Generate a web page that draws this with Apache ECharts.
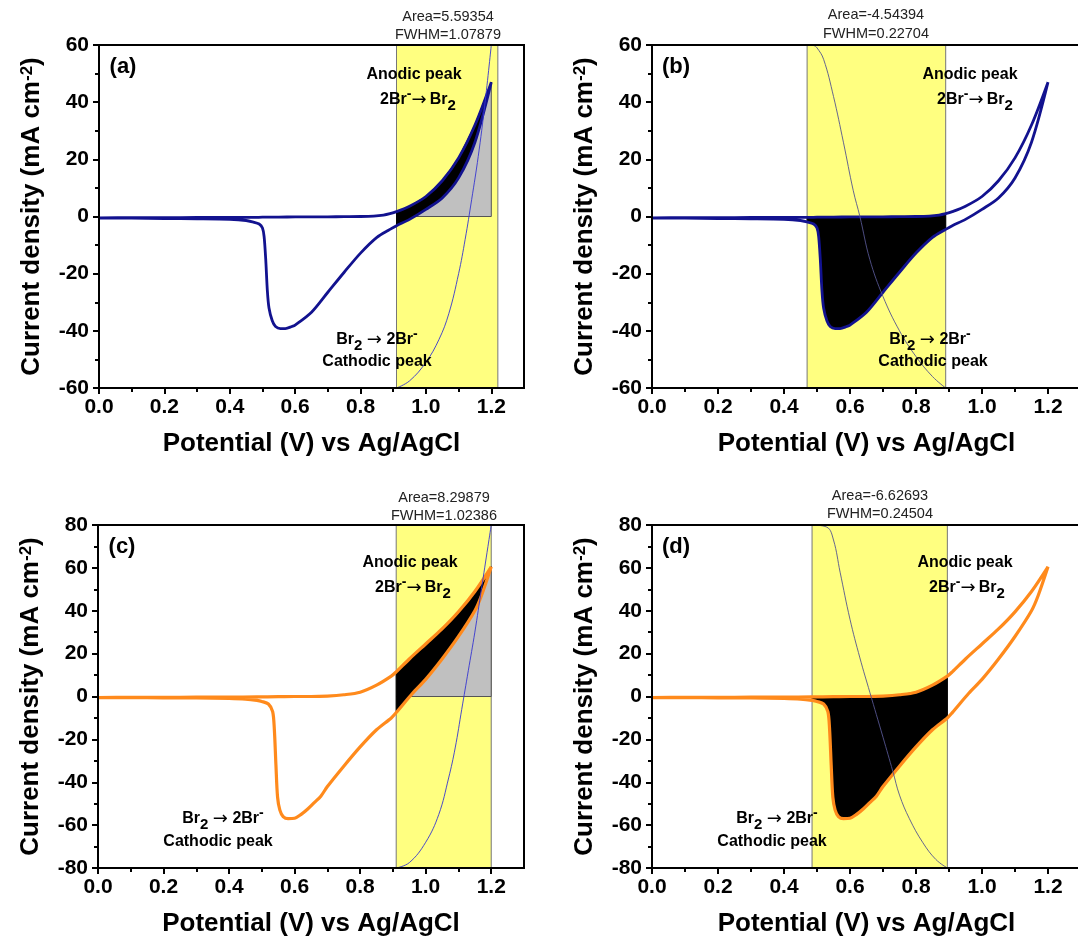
<!DOCTYPE html>
<html>
<head>
<meta charset="utf-8">
<title>CV integration</title>
<script src="https://cdn.jsdelivr.net/npm/echarts@6/dist/echarts.min.js"></script>
<style>
  html, body { margin: 0; padding: 0; background: #fff; }
  #chart { width: 1078px; height: 939px; }
</style>
</head>
<body>
<div id="chart"></div>
<script>
// tick values
const xTicks = [0, 0.2, 0.4, 0.6, 0.8, 1.0, 1.2]
const xMinorTicks = [0.1, 0.3, 0.5, 0.7, 0.9, 1.1]

// CV 1 (panels a, b): forward and reverse sweep, potential (V) / current density (mA cm-2)
const cv1FwdE = [0, 0.1, 0.2, 0.3, 0.4, 0.45, 0.47, 0.5, 0.55, 0.6, 0.65, 0.7, 0.75, 0.8, 0.84, 0.87, 0.89, 0.91, 0.95, 1.0, 1.05, 1.1, 1.15, 1.2]
const cv1FwdJ = [-0.5, -0.4, -0.4, -0.35, -0.3, -0.3, -0.3, -0.25, -0.2, -0.15, -0.1, -0.1, -0.05, 0, 0.15, 0.5, 1.0, 1.7, 3.6, 7, 12.5, 20.5, 32, 47]
const cv1RevE = [1.2, 1.15, 1.1, 1.05, 1.0, 0.95, 0.91, 0.89, 0.85, 0.8, 0.75, 0.7, 0.65, 0.6, 0.59, 0.57, 0.555, 0.54, 0.53, 0.52, 0.515, 0.51, 0.505, 0.5, 0.49, 0.47, 0.45, 0.4, 0.3, 0.2, 0.1, 0]
const cv1RevJ = [47, 26, 13.5, 6.5, 2.5, -1.0, -3.2, -4.5, -7.3, -12.8, -19.5, -26.5, -33.5, -38, -38.5, -39.2, -39.2, -38.5, -36.5, -32, -26, -15, -7, -4, -2.6, -1.9, -1.4, -1, -0.8, -0.7, -0.6, -0.6]

// CV 2 (panels c, d)
const cv2FwdE = [0, 0.1, 0.2, 0.3, 0.4, 0.485, 0.55, 0.6, 0.65, 0.7, 0.75, 0.8, 0.85, 0.895, 0.91, 0.95, 1.0, 1.05, 1.1, 1.15, 1.2]
const cv2FwdJ = [-0.5, -0.4, -0.4, -0.3, -0.3, -0.2, -0.1, 0, 0, 0.2, 0.8, 2, 5.3, 9.5, 11.5, 17.5, 24.5, 31.5, 39.5, 49, 60.5]
const cv2RevE = [1.2, 1.17, 1.15, 1.1, 1.05, 1.0, 0.96, 0.91, 0.895, 0.85, 0.8, 0.75, 0.7, 0.68, 0.66, 0.64, 0.62, 0.6, 0.58, 0.565, 0.555, 0.548, 0.543, 0.538, 0.533, 0.52, 0.5, 0.485, 0.45, 0.4, 0.3, 0.2, 0.1, 0]
const cv2RevJ = [60.5, 47, 40, 28, 17.5, 8, 1.5, -7.5, -10, -15.5, -23.5, -32.5, -42, -46.5, -49.5, -52.5, -55, -56.8, -57, -56, -53, -47, -32, -15, -7, -3.5, -2.3, -1.8, -1.2, -0.9, -0.7, -0.6, -0.5, -0.5]

// thin integration curves
const fitAE = [0.91, 0.95, 1.0, 1.04, 1.07, 1.1, 1.12, 1.14, 1.16, 1.18, 1.2]
const fitAJ = [-60, -57.5, -51, -43, -34, -20, -8, 6, 21, 39, 60]
const fitBE = [0.47, 0.49, 0.5, 0.52, 0.55, 0.58, 0.61, 0.63, 0.66, 0.7, 0.75, 0.8, 0.85, 0.89]
const fitBJ = [60, 59.8, 59, 55, 42, 26, 9, 0, -15, -28, -40, -49, -56, -60]
const fitCE = [0.91, 0.95, 1.0, 1.04, 1.07, 1.09, 1.11, 1.13, 1.15, 1.17, 1.19, 1.2]
const fitCJ = [-80, -77.5, -68, -55, -38, -24, -6, 12, 30, 50, 70, 80]
const fitDE = [0.485, 0.53, 0.55, 0.57, 0.6, 0.63, 0.66, 0.7, 0.73, 0.75, 0.78, 0.82, 0.86, 0.895]
const fitDJ = [80, 79, 73, 58, 36, 18, 2, -19, -35, -46, -57, -68, -76, -80]

// integration windows (V)
const bandA = [0.91, 1.22]
const bandB = [0.47, 0.89]
const bandC = [0.91, 1.2]
const bandD = [0.485, 0.895]

const areaLabels = ['Area=5.59354', 'Area=-4.54394', 'Area=8.29879', 'Area=-6.62693']
const fwhmLabels = ['FWHM=1.07879', 'FWHM=0.22704', 'FWHM=1.02386', 'FWHM=0.24504']
const panelLetters = ['(a)', '(b)', '(c)', '(d)']
const yRanges = [[-60, 60], [-60, 60], [-80, 80], [-80, 80]]

const FONT = '"Liberation Sans", Arial, sans-serif'
const BLUE = '#12128f'
const ORANGE = '#ff8a1c'

const pairs = (xs, ys) => xs.map((x, i) => [x, ys[i]])
const inBand = (pts, b) => pts.filter(p => p[0] >= b[0] - 1e-9 && p[0] <= b[1] + 1e-9)

const cv1 = { fwd: pairs(cv1FwdE, cv1FwdJ), rev: pairs(cv1RevE, cv1RevJ) }
const cv2 = { fwd: pairs(cv2FwdE, cv2FwdJ), rev: pairs(cv2RevE, cv2RevJ) }

const panels = [
  { grid: { left: 99, top: 45, width: 425, height: 343 }, cv: cv1, color: BLUE, width: 2.8, band: bandA, fit: pairs(fitAE, fitAJ), fitColor: '#3535d0', gray: true,
    fitText: [448, 17, 35], anodic: [414, 75, 418, 100], cathodic: [377, 340, 377, 362] },
  { grid: { left: 652, top: 45, width: 429, height: 343 }, cv: cv1, color: BLUE, width: 2.8, band: bandB, fit: pairs(fitBE, fitBJ), fitColor: '#55558f', gray: false,
    fitText: [876, 15, 34], anodic: [970, 75, 975, 100], cathodic: [930, 340, 933, 362] },
  { grid: { left: 98, top: 525, width: 426, height: 343 }, cv: cv2, color: ORANGE, width: 3.2, band: bandC, fit: pairs(fitCE, fitCJ), fitColor: '#3535d0', gray: true,
    fitText: [444, 498, 516], anodic: [410, 563, 413, 588], cathodic: [223, 819, 218, 842] },
  { grid: { left: 652, top: 525, width: 429, height: 343 }, cv: cv2, color: ORANGE, width: 3.2, band: bandD, fit: pairs(fitDE, fitDJ), fitColor: '#55558f', gray: false,
    fitText: [880, 496, 514], anodic: [965, 563, 967, 588], cathodic: [777, 819, 772, 842] }
]

const polygonSeries = (idx, points, style, z) => ({
  type: 'custom',
  xAxisIndex: idx * 2,
  yAxisIndex: idx,
  coordinateSystem: 'cartesian2d',
  clip: true,
  silent: true,
  z: z,
  data: [[0, 0]],
  renderItem: (params, api) => ({
    type: 'polygon',
    shape: { points: points.map(p => api.coord(p)) },
    style: style
  })
})

const rich = {
  sub: { fontFamily: FONT, fontWeight: 'bold', fontSize: 15, lineHeight: 14, verticalAlign: 'bottom' },
  sup: { fontFamily: FONT, fontWeight: 'bold', fontSize: 14, lineHeight: 12, verticalAlign: 'top' },
  arr: { fontFamily: 'DejaVu Sans', fontWeight: 'normal', fontSize: 18, lineHeight: 26 },
  b: { fontFamily: FONT, fontWeight: 'bold', fontSize: 16, lineHeight: 26 }
}

const grid = [], xAxis = [], yAxis = [], series = [], graphic = []

panels.forEach((p, i) => {
  const [yMin, yMax] = yRanges[i]
  grid.push(Object.assign({ show: true, borderColor: '#000', borderWidth: 2, backgroundColor: 'transparent', z: 5, outerBoundsMode: 'none', containLabel: false }, p.grid))

  xAxis.push({
    gridIndex: i, type: 'value', min: 0, max: 1.3, position: 'bottom', z: 5,
    axisLine: { show: true, onZero: false, lineStyle: { color: '#000', width: 2 } },
    axisTick: { show: true, inside: false, length: 6, customValues: xTicks, lineStyle: { color: '#000', width: 2 } },
    axisLabel: { customValues: xTicks, formatter: v => v.toFixed(1), color: '#000', fontFamily: FONT, fontWeight: 'bold', fontSize: 21, margin: 9 },
    splitLine: { show: false },
    name: 'Potential (V) vs Ag/AgCl', nameLocation: 'middle', nameGap: 43,
    nameTextStyle: { color: '#000', fontFamily: FONT, fontWeight: 'bold', fontSize: 26 }
  })
  xAxis.push({
    gridIndex: i, type: 'value', min: 0, max: 1.3, position: 'bottom', z: 5,
    axisLine: { show: false, onZero: false },
    axisTick: { show: true, inside: false, length: 4, customValues: xMinorTicks, lineStyle: { color: '#000', width: 2 } },
    axisLabel: { show: false },
    splitLine: { show: false }
  })
  yAxis.push({
    gridIndex: i, type: 'value', min: yMin, max: yMax, interval: 20, z: 5,
    axisLine: { show: true, onZero: false, lineStyle: { color: '#000', width: 2 } },
    axisTick: { show: true, inside: false, length: 6, lineStyle: { color: '#000', width: 2 } },
    minorTick: { show: true, splitNumber: 2, length: 4, lineStyle: { color: '#000', width: 2 } },
    axisLabel: { color: '#000', fontFamily: FONT, fontWeight: 'bold', fontSize: 21, margin: 10 },
    splitLine: { show: false },
    minorSplitLine: { show: false },
    name: 'Current density (mA cm{sup|-2})', nameLocation: 'middle', nameRotate: 90, nameGap: 54,
    nameTextStyle: {
      color: '#000', fontFamily: FONT, fontWeight: 'bold', fontSize: 26,
      rich: { sup: { color: '#000', fontFamily: FONT, fontWeight: 'bold', fontSize: 17, verticalAlign: 'top', lineHeight: 16 } }
    }
  })

  // yellow integration window
  const b = p.band
  series.push(polygonSeries(i, [[b[0], yMin], [b[1], yMin], [b[1], yMax], [b[0], yMax]],
    { fill: '#ffff80', stroke: '#777', lineWidth: 1 }, 1))

  // grey area under the reverse branch
  if (p.gray) {
    const lower = inBand(p.cv.rev, b).map(q => [q[0], Math.max(q[1], 0)])
    const right = lower[0][0]
    series.push(polygonSeries(i, lower.concat([[b[0], 0], [right, 0]]),
      { fill: '#c0c0c0', stroke: '#555', lineWidth: 1 }, 2))
  }

  // black area between the two branches
  series.push(polygonSeries(i, inBand(p.cv.fwd, b).concat(inBand(p.cv.rev, b)),
    { fill: '#000', stroke: '#000', lineWidth: 1 }, 3))

  series.push({
    type: 'line', xAxisIndex: i * 2, yAxisIndex: i, z: 4,
    data: p.cv.fwd.concat(p.cv.rev),
    showSymbol: false, smooth: 0.3, silent: true,
    lineStyle: { color: p.color, width: p.width }
  })
  series.push({
    type: 'line', xAxisIndex: i * 2, yAxisIndex: i, z: 4,
    data: p.fit, showSymbol: false, smooth: 0.4, silent: true,
    lineStyle: { color: p.fitColor, width: 0.9 }
  })

  // text annotations
  const g = p.grid
  graphic.push({ type: 'text', x: g.left + 24, y: g.top + 22, z: 100,
    style: { text: panelLetters[i], fontFamily: FONT, fontWeight: 'bold', fontSize: 22, fill: '#000', align: 'center', verticalAlign: 'middle' } })
  graphic.push({ type: 'text', x: p.fitText[0], y: p.fitText[1], z: 100,
    style: { text: areaLabels[i], fontFamily: FONT, fontSize: 14.5, fill: '#222', align: 'center', verticalAlign: 'middle' } })
  graphic.push({ type: 'text', x: p.fitText[0], y: p.fitText[2], z: 100,
    style: { text: fwhmLabels[i], fontFamily: FONT, fontSize: 14.5, fill: '#222', align: 'center', verticalAlign: 'middle' } })
  graphic.push({ type: 'text', x: p.anodic[0], y: p.anodic[1], z: 100,
    style: { text: 'Anodic peak', fontFamily: FONT, fontWeight: 'bold', fontSize: 16, fill: '#000', align: 'center', verticalAlign: 'middle' } })
  graphic.push({ type: 'text', x: p.anodic[2], y: p.anodic[3], z: 100,
    style: { text: '{b|2Br}{sup|-}{arr|\u2192} {b|Br}{sub|2}', rich: rich, fill: '#000', align: 'center', verticalAlign: 'middle' } })
  graphic.push({ type: 'text', x: p.cathodic[0], y: p.cathodic[1], z: 100,
    style: { text: '{b|Br}{sub|2}{b| }{arr|\u2192}{b| 2Br}{sup|-}', rich: rich, fill: '#000', align: 'center', verticalAlign: 'middle' } })
  graphic.push({ type: 'text', x: p.cathodic[2], y: p.cathodic[3], z: 100,
    style: { text: 'Cathodic peak', fontFamily: FONT, fontWeight: 'bold', fontSize: 16, fill: '#000', align: 'center', verticalAlign: 'middle' } })
})

const chart = echarts.init(document.getElementById('chart'), null, { renderer: 'canvas' })
chart.setOption({
  backgroundColor: '#fff',
  animation: false,
  grid, xAxis, yAxis, series, graphic
})
</script>
</body>
</html>
